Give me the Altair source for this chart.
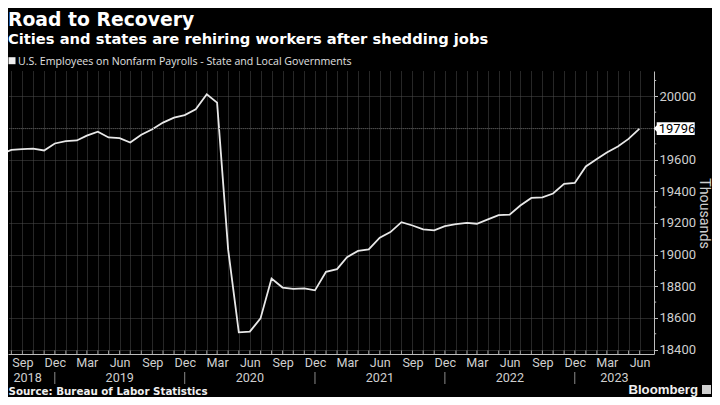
import altair as alt
import pandas as pd

# ---------------- data ----------------
TITLE = "Road to Recovery"
SUBTITLE = "Cities and states are rehiring workers after shedding jobs"
SERIES_NAME = "U.S. Employees on Nonfarm Payrolls - State and Local Governments"
SOURCE = "Source: Bureau of Labor Statistics"
BRAND = "Bloomberg"
AXIS_TITLE = "Thousands"

first_month = "2018-07-01"
values = [
    19631, 19662, 19667, 19669, 19658, 19702,                                   # 2018 Jul-Dec
    19717, 19721, 19752, 19777, 19740, 19736, 19708, 19757, 19792, 19834, 19865, 19881,  # 2019
    19918, 20013, 19960, 19033, 18509, 18513, 18597, 18849, 18792, 18784, 18786, 18774,  # 2020
    18891, 18908, 18984, 19023, 19033, 19107, 19142, 19205, 19184, 19159, 19153, 19180,  # 2021
    19192, 19201, 19195, 19222, 19249, 19252, 19310, 19358, 19362, 19386, 19447, 19453,  # 2022
    19557, 19604, 19645, 19683, 19731, 19796,                                   # 2023 Jan-Jun
]
years = ["2018", "2019", "2020", "2021", "2022", "2023"]
y_major = [18400, 18600, 18800, 19000, 19200, 19400, 19600, 19800, 20000]
y_minor = [18500, 18700, 18900, 19100, 19300, 19500, 19700, 19900, 20100]
y_domain = [18372, 20160]
x_domain = ["2018-07-22 12:00", "2023-07-11 14:00"]

# ---------------- derived tables ----------------
months = pd.date_range(first_month, periods=len(values), freq="MS")
df = pd.DataFrame({"date": [d.strftime("%Y-%m-%d") for d in months], "value": values})


def ms(ts):
    return int(pd.Timestamp(ts, tz="UTC").value // 10**6)


lo_ms, hi_ms = ms(x_domain[0]), ms(x_domain[1])
tick_dates = [d for d in months if ms(d.strftime("%Y-%m-%d")) >= lo_ms]
tick_ms = [ms(d.strftime("%Y-%m-%d")) for d in tick_dates]
ticks_df = pd.DataFrame({"date": [d.strftime("%Y-%m-%d") for d in tick_dates]})

dec_dates = [d for d in months if d.month == 12]
sep_df = pd.DataFrame({"date": [d.strftime("%Y-%m-%d") for d in dec_dates]})
bounds = [ms(first_month)] + [ms(d.strftime("%Y-%m-%d")) for d in dec_dates] + [hi_ms]
year_df = pd.DataFrame({"year": years,
                        "date": [(bounds[i] + bounds[i + 1]) / 2 for i in range(len(years))]})
minor_df = pd.DataFrame({"value": y_minor})
last_df = df.tail(1)

W, H = 646, 283
GRID = "#4e4e4e"
AXC = "#bdbdbd"
LBL = "#cfcfcf"

xs = alt.Scale(type="utc", domain=[lo_ms, hi_ms], nice=False)
ys = alt.Scale(domain=y_domain, nice=False, zero=False)

x_axis = alt.Axis(
    values=tick_ms,
    labelExpr="utcmonth(datum.value) % 3 == 2 ? utcFormat(datum.value, '%b') : ''",
    ticks=False, labelPadding=2, domainColor=AXC, domainWidth=1,
    grid=True, gridColor=GRID, gridDash=[1, 1], gridWidth=1,
    labelFont="Roboto", labelFontSize=12.6, labelColor=LBL,
    labelFlush=False, labelOverlap=False, title=None,
)
y_axis = alt.Axis(
    orient="right", values=y_major, format="d",
    labelExpr="datum.value == 19800 ? '' : datum.label",
    grid=True, gridColor=GRID, gridDash=[1, 1], gridWidth=1,
    domainColor=AXC, tickColor=AXC, tickSize=3.5, labelPadding=1.5,
    labelFont="Roboto", labelFontSize=13, labelColor=LBL,
    labelFlush=False, labelOverlap=False,
    title=AXIS_TITLE, titleAngle=90, titleFont="Roboto", titleFontSize=14.2,
    titleFontWeight="normal", titleColor=LBL, titleX=49.5, titleY=142,
    titleAlign="center", titleBaseline="middle",
)

X = alt.X("date:T", scale=xs, axis=x_axis)
Y = alt.Y("value:Q", scale=ys, axis=y_axis)

line = alt.Chart(df).mark_line(color="#e8e8e8", strokeWidth=1.8, clip=True).encode(x=X, y=Y)

last_grid = alt.Chart(last_df).mark_rule(color=GRID, strokeDash=[1, 1], strokeWidth=1).encode(y=Y)

month_ticks = alt.Chart(ticks_df).mark_rule(color="#9a9a9a", strokeWidth=1).encode(
    x=X, y=alt.value(H - 3.5), y2=alt.value(H)
)

minor_ticks = alt.Chart(minor_df).mark_rule(color=AXC, strokeWidth=1).encode(
    y=Y, x=alt.value(W), x2=alt.value(W + 2.2)
)

BOX = "M -1 0 L -0.867 -0.16 L -0.867 -0.312 L 1 -0.312 L 1 0.312 L -0.867 0.312 L -0.867 0.16 Z"
last_box = alt.Chart(last_df).mark_point(shape=BOX, size=1656, filled=True, color="#ffffff",
                                         opacity=1).encode(x=alt.value(W + 20.35), y=Y)
last_txt = alt.Chart(last_df).mark_text(font="Roboto", fontSize=13, color="#000000",
                                        align="center", baseline="middle").encode(
    x=alt.value(W + 23), y=Y, text=alt.Text("value:Q", format="d")
)

separators = alt.Chart(sep_df).mark_rule(color="#8a8a8a", strokeWidth=1).encode(
    x=X, y=alt.value(301), y2=alt.value(313)
)
year_txt = alt.Chart(year_df).mark_text(font="Roboto", fontSize=12.6, color=LBL,
                                        align="center", baseline="middle").encode(
    x=X, y=alt.value(307), text="year:N"
)


def label(text, x, y, **kw):
    return alt.Chart(pd.DataFrame({"t": [text]})).mark_text(**kw).encode(
        x=alt.value(x), y=alt.value(y), text="t:N")


# plot top is at page y = 71
title = label(TITLE, 0, -45.5, font="DejaVu Sans", fontWeight="bold", fontSize=18.8,
              color="#ffffff", align="left", baseline="alphabetic")
subtitle = label(SUBTITLE, 0, -27, font="DejaVu Sans", fontWeight="bold", fontSize=14.7,
                 color="#ffffff", align="left", baseline="alphabetic")
legend_sq = alt.Chart(pd.DataFrame({"t": [SERIES_NAME]})).mark_point(
    shape="square", filled=True, size=49, color="#f0f0f0", opacity=1).encode(
    x=alt.value(4), y=alt.value(-10.3))
legend_txt = label(SERIES_NAME, 10, -6.5, font="Open Sans", fontSize=10.6,
                   color="#e0e0e0", align="left", baseline="alphabetic")
source = label(SOURCE, 0.5, 324, font="DejaVu Sans", fontWeight="bold", fontSize=10.3,
               color="#f0f0f0", align="left", baseline="alphabetic")
brand = label(BRAND, 690, 323, font="Liberation Sans", fontWeight="bold", fontSize=13.2,
              color="#f0f0f0", align="right", baseline="alphabetic")
brand_icon = alt.Chart(pd.DataFrame({"t": [BRAND]})).mark_point(
    shape="square", filled=True, size=81, color="#d0d0d0", opacity=1).encode(
    x=alt.value(698.5), y=alt.value(318.5))

chart = alt.layer(
    line, last_grid, month_ticks, minor_ticks, last_box, last_txt,
    separators, year_txt, title, subtitle, legend_sq, legend_txt, source, brand, brand_icon,
).properties(
    width=W, height=H,
    padding={"left": 0, "top": 63, "right": 704 - W, "bottom": 389 - 63 - H},
    autosize=alt.AutoSizeParams(type="none"),
    background="#000000",
).configure_view(stroke="transparent")

chart.save("out.html", embed_options={"renderer": "svg", "actions": False})
